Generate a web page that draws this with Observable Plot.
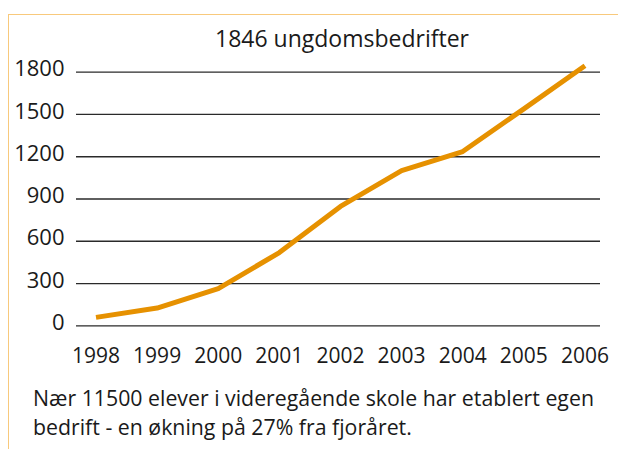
<!DOCTYPE html>
<html>
<head>
<meta charset="utf-8">
<script src="https://cdn.jsdelivr.net/npm/d3@7"></script>
<script src="https://cdn.jsdelivr.net/npm/@observablehq/plot@0.6"></script>
<style>
  html, body { margin: 0; padding: 0; background: #fff; }
  body { width: 618px; height: 449px; position: relative; overflow: hidden; font-family: "Open Sans", sans-serif; color: #1a1a1a; }
  #frame { position: absolute; left: 8px; top: 14px; width: 640px; height: 460px; border-top: 1.5px solid #f8c97c; border-left: 1.5px solid #f8c97c; box-sizing: border-box; }
  #title { position: absolute; left: 80px; width: 524px; top: 22.1px; text-align: center; font-size: 23px; line-height: normal; white-space: nowrap; }
  #chart { position: absolute; left: 0; top: 0; }
  #caption { position: absolute; left: 33px; top: 384.2px; font-size: 21.3px; line-height: 28.5px; white-space: nowrap; }
</style>
</head>
<body>
<div id="frame"></div>
<div id="title">1846 ungdomsbedrifter</div>
<div id="chart"></div>
<div id="caption">Nær 11500 elever i videregående skole har etablert egen<br>bedrift - en økning på 27% fra fjoråret.</div>
<script>
const years = [1998, 1999, 2000, 2001, 2002, 2003, 2004, 2005, 2006];
const companies = [60, 126, 264, 520, 847, 1102, 1237, 1540, 1846];
const yTicks = [0, 300, 600, 900, 1200, 1500, 1800];

const data = years.map((y, i) => ({year: y, value: companies[i]}));

const plot = Plot.plot({
  width: 618,
  height: 380,
  marginLeft: 76,
  marginRight: 18,
  marginTop: 71.7,
  marginBottom: 54.7,
  style: {fontFamily: "Open Sans, sans-serif", fontSize: "21px", color: "#1a1a1a", background: "transparent"},
  x: {domain: [1997.681, 2006.254], ticks: years, tickFormat: d => String(d)},
  y: {domain: [0, 1800], ticks: yTicks, tickFormat: d => String(d)},
  marks: [
    Plot.ruleY(yTicks, {stroke: "#2a2a2a", strokeWidth: 1.3}),
    Plot.axisY({ticks: yTicks, tickSize: 0, tickPadding: 12, dy: -3, label: null, fontSize: 22, tickFormat: d => String(d)}),
    Plot.axisX({ticks: years, tickSize: 0, tickPadding: 22, label: null, fontSize: 21, tickFormat: d => String(d)}),
    Plot.line(data, {x: "year", y: "value", stroke: "#e69100", strokeWidth: 5, strokeLinecap: "butt", strokeLinejoin: "round"})
  ]
});
document.getElementById("chart").appendChild(plot);
</script>
</body>
</html>
